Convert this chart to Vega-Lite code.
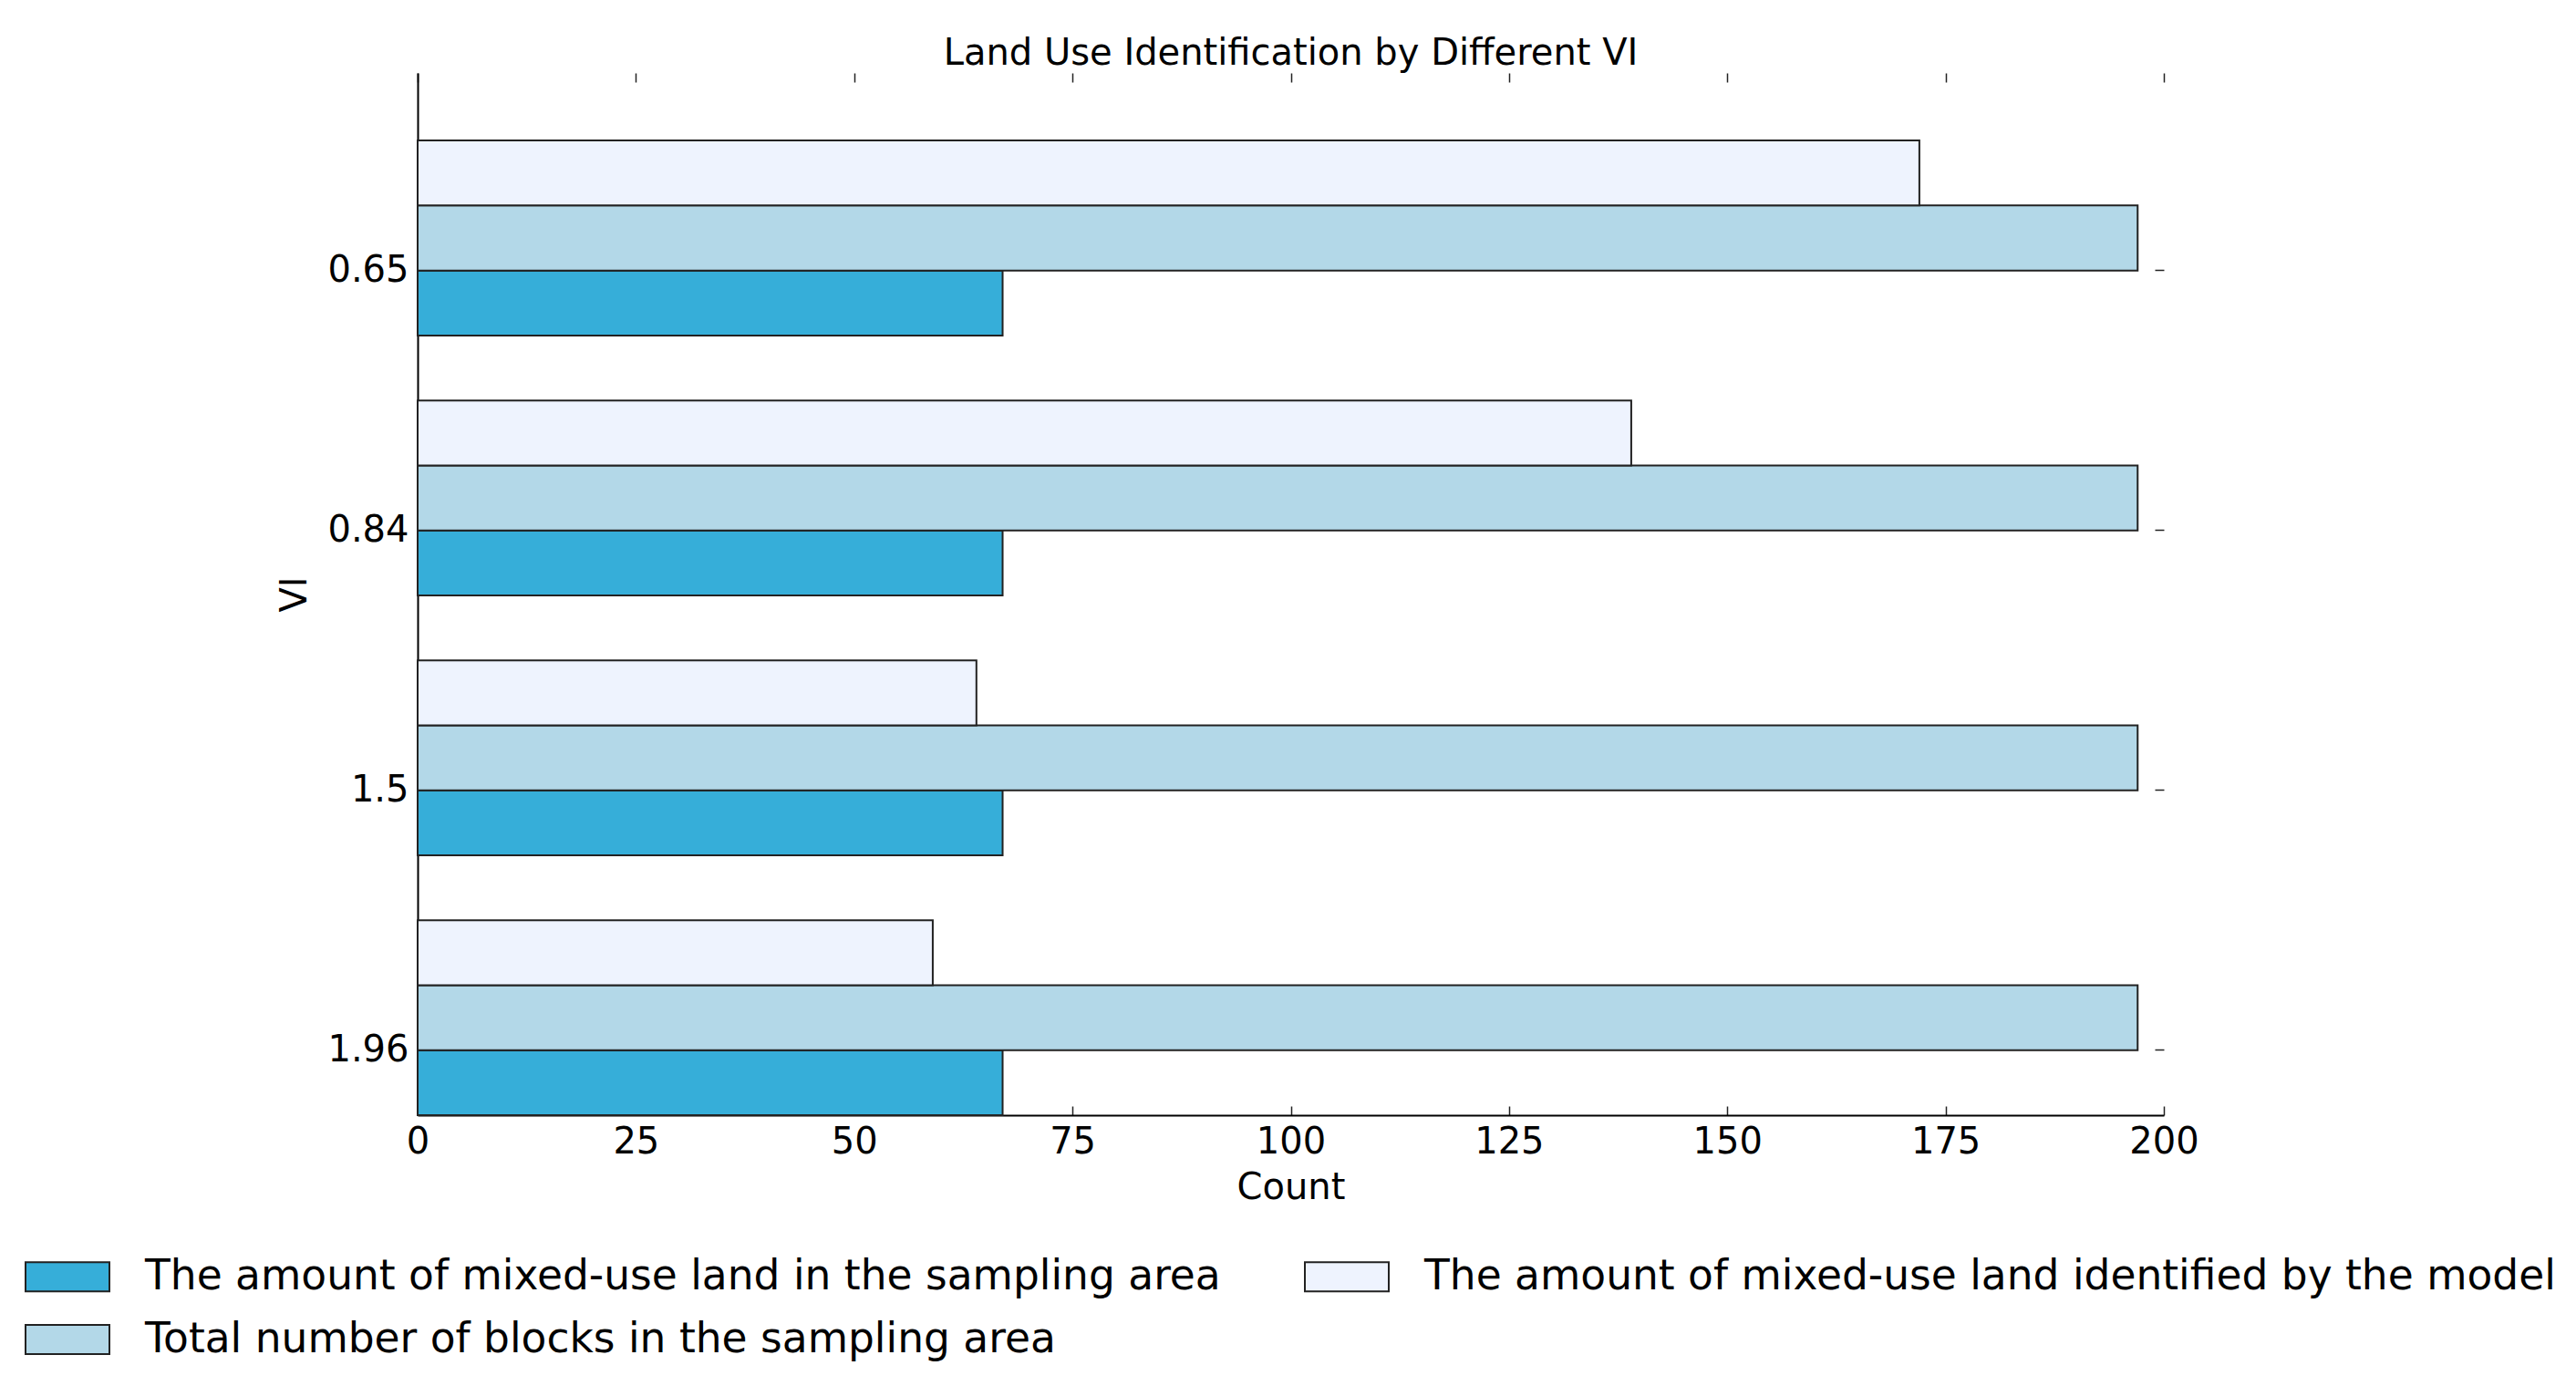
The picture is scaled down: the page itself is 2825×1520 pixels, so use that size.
{
  "$schema": "https://vega.github.io/schema/vega-lite/v6.json",
  "autosize": {"type": "none"},
  "width": 1915,
  "height": 1143,
  "padding": {"left": 458, "top": 80, "right": 452, "bottom": 297},
  "background": "white",
  "title": {
    "text": "Land Use Identification by Different VI",
    "font": "DejaVu Sans",
    "fontSize": 40,
    "fontWeight": "normal",
    "color": "black",
    "anchor": "middle",
    "offset": 0
  },
  "config": {
    "view": {"stroke": null},
    "axis": {
      "labelFont": "DejaVu Sans",
      "titleFont": "DejaVu Sans",
      "labelFontSize": 40,
      "titleFontSize": 40,
      "titleFontWeight": "normal",
      "labelColor": "black",
      "titleColor": "black",
      "domainColor": "black",
      "domainWidth": 2,
      "tickColor": "#222222",
      "tickWidth": 1.5,
      "tickSize": -10,
      "grid": false,
      "labelFlush": false,
      "zindex": 1
    },
    "legend": {
      "labelFont": "DejaVu Sans",
      "labelFontSize": 45.5,
      "labelColor": "black",
      "labelLimit": 3000,
      "padding": 0
    }
  },
  "data": {
    "values": [
      {"VI": "0.65", "series": "The amount of mixed-use land in the sampling area", "count": 67},
      {"VI": "0.65", "series": "Total number of blocks in the sampling area", "count": 197},
      {"VI": "0.65", "series": "The amount of mixed-use land identified by the model", "count": 172},
      {"VI": "0.84", "series": "The amount of mixed-use land in the sampling area", "count": 67},
      {"VI": "0.84", "series": "Total number of blocks in the sampling area", "count": 197},
      {"VI": "0.84", "series": "The amount of mixed-use land identified by the model", "count": 139},
      {"VI": "1.5", "series": "The amount of mixed-use land in the sampling area", "count": 67},
      {"VI": "1.5", "series": "Total number of blocks in the sampling area", "count": 197},
      {"VI": "1.5", "series": "The amount of mixed-use land identified by the model", "count": 64},
      {"VI": "1.96", "series": "The amount of mixed-use land in the sampling area", "count": 67},
      {"VI": "1.96", "series": "Total number of blocks in the sampling area", "count": 197},
      {"VI": "1.96", "series": "The amount of mixed-use land identified by the model", "count": 59}
    ]
  },
  "layer": [
    {
      "mark": {"type": "bar", "stroke": "#222222", "strokeWidth": 2, "opacity": 1},
      "encoding": {
        "x": {
          "field": "count",
          "type": "quantitative",
          "scale": {"domain": [0, 200], "nice": false, "zero": true},
          "axis": {
            "orient": "bottom",
            "title": "Count",
            "values": [0, 25, 50, 75, 100, 125, 150, 175, 200],
            "labelPadding": 19,
            "titlePadding": 10
          }
        },
        "y": {
          "field": "VI",
          "type": "nominal",
          "sort": ["0.65", "0.84", "1.5", "1.96"],
          "scale": {"type": "band", "paddingInner": 0.25, "paddingOuter": 0.13, "align": 1},
          "axis": {
            "orient": "left",
            "title": "VI",
            "bandPosition": 0.667,
            "labelOffset": 36,
            "labelPadding": 20,
            "titlePadding": 15
          }
        },
        "yOffset": {
          "field": "series",
          "type": "nominal",
          "sort": [
            "The amount of mixed-use land identified by the model",
            "Total number of blocks in the sampling area",
            "The amount of mixed-use land in the sampling area"
          ],
          "scale": {"paddingInner": 0, "paddingOuter": 0}
        },
        "color": {
          "field": "series",
          "type": "nominal",
          "scale": {
            "domain": [
              "The amount of mixed-use land in the sampling area",
              "Total number of blocks in the sampling area",
              "The amount of mixed-use land identified by the model"
            ],
            "range": ["#36AED9", "#B3D8E8", "#EEF3FE"]
          },
          "legend": {
            "title": null,
            "orient": "none",
            "legendX": -408,
            "legendY": 1296,
            "columns": 2,
            "columnPadding": 88,
            "rowPadding": 21,
            "symbolType": "M-2,-0.7L2,-0.7L2,0.7L-2,0.7Z",
            "symbolSize": 2116,
            "symbolStrokeColor": "#222222",
            "symbolStrokeWidth": 2,
            "symbolOpacity": 1,
            "labelOffset": 61
          }
        }
      }
    },
    {
      "mark": {"type": "bar", "opacity": 0},
      "encoding": {
        "x": {
          "field": "count",
          "type": "quantitative",
          "axis": {
            "orient": "top",
            "title": null,
            "labels": false,
            "domain": false,
            "values": [0, 25, 50, 75, 100, 125, 150, 175, 200]
          }
        },
        "y": {
          "field": "VI",
          "type": "nominal",
          "sort": ["0.65", "0.84", "1.5", "1.96"],
          "axis": {
            "orient": "right",
            "title": null,
            "labels": false,
            "domain": false,
            "bandPosition": 0.667
          }
        }
      }
    }
  ],
  "resolve": {"axis": {"x": "independent", "y": "independent"}}
}
